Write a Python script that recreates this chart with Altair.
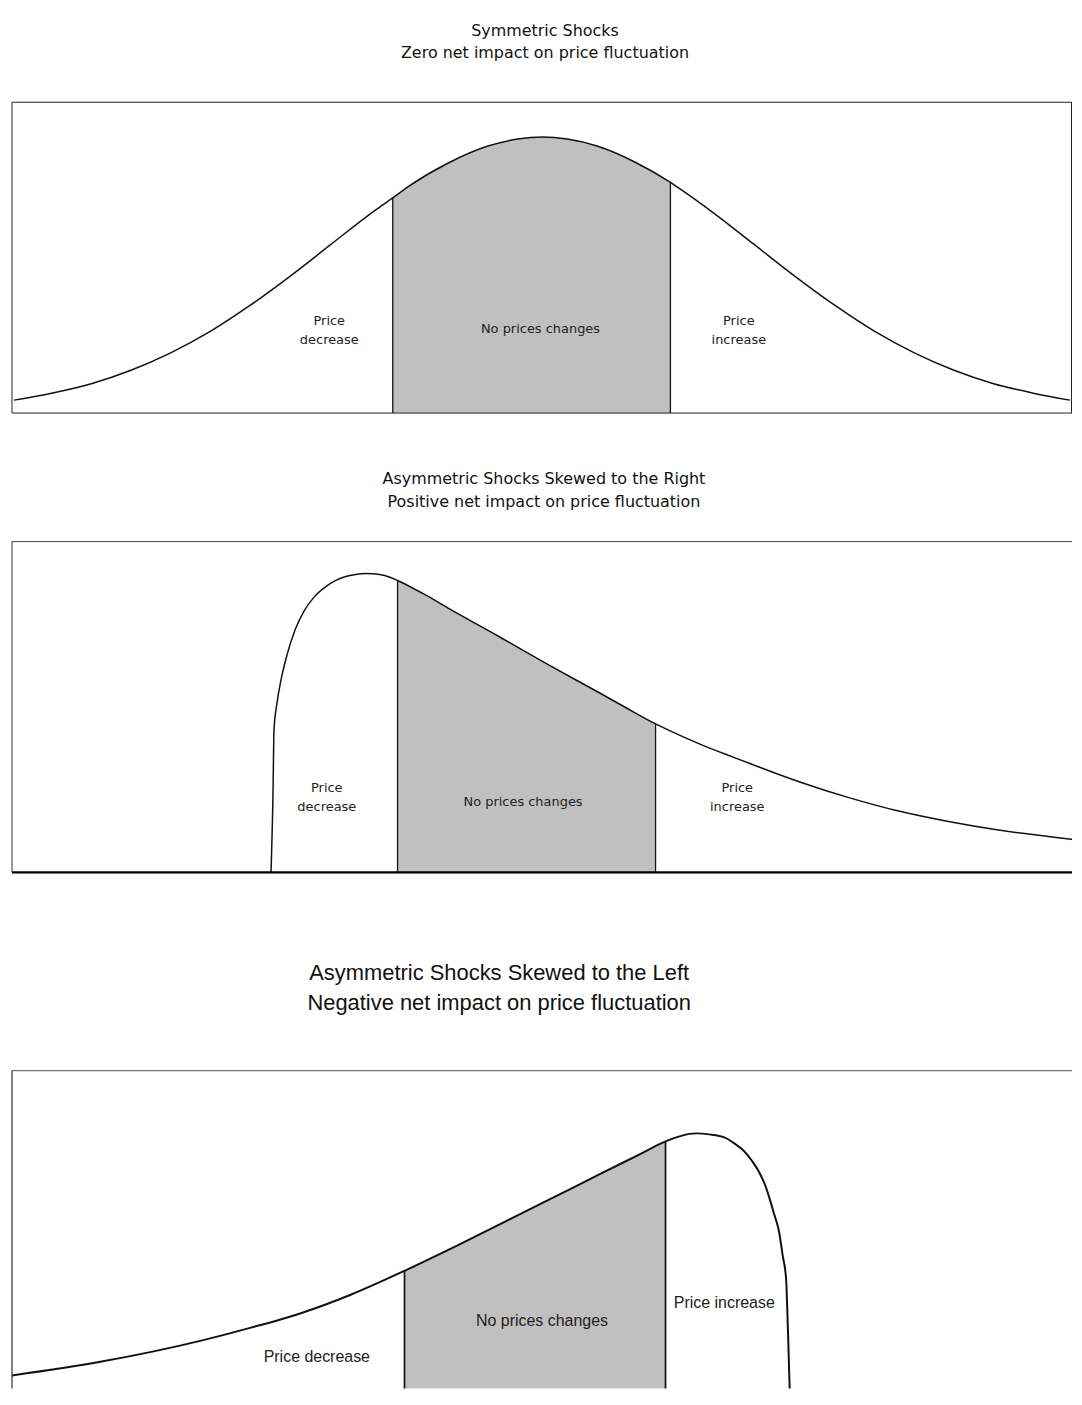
import altair as alt
import pandas as pd

# ---------------- Panel 1: symmetric shocks ----------------
p1_title = ["Symmetric Shocks", "Zero net impact on price fluctuation"]
p1_x = [1, 39, 79, 119, 159, 199, 239, 279, 319, 359, 383, 399, 439, 479, 509, 534,
        559, 589, 629, 663, 669, 709, 749, 789, 829, 869, 909, 949, 989, 1029, 1066]
p1_y = [13, 20, 29.5, 43, 60.5, 82, 108, 137, 168, 199, 216, 227.5, 251, 268, 275, 277,
        275, 268, 251, 231.5, 227.5, 199, 168, 137, 108, 82, 60.5, 43, 29.5, 20, 13]
p1_div_x = [383, 663]
p1_div_top = [216, 231.5]
p1_label_text = ["Price\ndecrease", "No prices changes", "Price\nincrease"]
p1_label_x = [319, 532, 732]
p1_label_y = [92, 84, 92]

# ---------------- Panel 2: skewed to the right ----------------
p2_title = ["Asymmetric Shocks Skewed to the Right", "Positive net impact on price fluctuation"]
p2_x = [265, 267, 268, 271, 275, 281, 289, 298, 308, 319, 330, 340, 350, 360, 374, 385,
        392, 420, 445, 495, 545, 595, 620, 651, 670, 695, 720, 745, 770, 795, 845, 895,
        945, 995, 1045, 1077]
p2_y = [0, 80, 143, 170, 193, 218, 243, 262, 276, 286, 293, 297, 299, 300, 299, 296,
        293, 278.5, 264, 236, 207.5, 180, 166, 149, 140, 129, 119, 109.5, 100, 91, 75, 61.5,
        51, 42.5, 36, 32]
p2_div_x = [392, 651]
p2_div_top = [293, 149]
p2_label_text = ["Price\ndecrease", "No prices changes", "Price\nincrease"]
p2_label_x = [321, 518, 733]
p2_label_y = [85, 71, 85]

# ---------------- Panel 3: skewed to the left ----------------
p3_title = ["Asymmetric Shocks Skewed to the Left", "Negative net impact on price fluctuation"]
p3_x = [0, 90, 190, 240, 290, 340, 394, 440, 490, 540, 590, 630, 656, 670, 680, 687,
        700, 715, 725, 735, 743, 750, 756, 760, 765, 770, 773.5, 777, 779, 781, 781.3]
p3_y = [34, 48, 69, 82, 96.5, 115, 139, 161, 186, 211, 236, 256, 269, 274, 276.5, 277,
        276, 273, 267, 259, 249, 238, 225, 213, 196, 178, 155, 131, 75, 8, 0]
p3_div_x = [394, 656]
p3_div_top = [139, 269]
p3_label_text = ["Price decrease", "No prices changes", "Price increase"]
p3_label_x = [306, 532, 715]
p3_label_y = [53, 89, 107]

GRAY = "#c0c0c0"
INK = "#111111"
PLOT_W = 1064


def panel(cx, cy, div_x, div_top, lt, lx, ly, xdom, ydom, height, title,
          line_w, lab_font, lab_size, lab_lh, frame):
    curve = pd.DataFrame({"x": cx, "y": cy})
    divs = pd.DataFrame({"x": div_x, "y": [0] * len(div_x), "top": div_top})
    labels = pd.DataFrame({"x": lx, "y": ly, "t": lt})

    xs = alt.Scale(domain=xdom, nice=False, zero=False)
    ys = alt.Scale(domain=ydom, nice=False, zero=False)
    X = alt.X("x:Q", scale=xs, axis=None)
    Y = alt.Y("y:Q", scale=ys, axis=None)
    lo, hi = min(div_x), max(div_x)

    shade = alt.Chart(curve).transform_filter(
        (alt.datum.x >= lo) & (alt.datum.x <= hi)
    ).mark_area(color=GRAY, interpolate="monotone", clip=True).encode(x=X, y=Y)

    rules = alt.Chart(divs).mark_rule(color=INK, strokeWidth=line_w * 0.85, clip=True).encode(
        x=X, y=Y, y2=alt.Y2("top:Q")
    )
    line = alt.Chart(curve).mark_line(
        color=INK, strokeWidth=line_w, interpolate="monotone", clip=True
    ).encode(x=X, y=Y)

    text = alt.Chart(labels).mark_text(
        font=lab_font, fontSize=lab_size, lineHeight=lab_lh, lineBreak="\n",
        color="#222222", align="center", baseline="middle"
    ).encode(x=X, y=Y, text="t:N")

    layers = [shade, rules, line, text]
    for kind, val, color, sw in frame:
        df = pd.DataFrame({kind: [val]})
        enc = {"y": Y} if kind == "y" else {"x": X}
        layers.append(alt.Chart(df).mark_rule(color=color, strokeWidth=sw).encode(**enc))

    return alt.layer(*layers).properties(width=PLOT_W, height=height, title=title)


t1 = alt.TitleParams(text=p1_title, font="DejaVu Sans", fontSize=16, fontWeight="normal",
                     lineHeight=22, anchor="middle", offset=41, color="#111111", dx=3)
t2 = alt.TitleParams(text=p2_title, font="DejaVu Sans", fontSize=16, fontWeight="normal",
                     lineHeight=23, anchor="middle", offset=31, color="#111111", dx=2)
t3 = alt.TitleParams(text=p3_title, font="Liberation Sans", fontSize=22, fontWeight="normal",
                     lineHeight=30, anchor="middle", offset=55, color="#111111", dx=-43)

c1 = panel(p1_x, p1_y, p1_div_x, p1_div_top, p1_label_text, p1_label_x, p1_label_y,
           [-1, 1068], [0, 312], 312, t1, 1.5, "DejaVu Sans", 13, 19,
           [("y", 0, "#222222", 1), ("y", 312, "#222222", 1),
            ("x", -1, "#222222", 1), ("x", 1067.5, "#222222", 1)])

c2 = panel(p2_x, p2_y, p2_div_x, p2_div_top, p2_label_text, p2_label_x, p2_label_y,
           [5, 1069], [0, 332], 332, t2, 1.5, "DejaVu Sans", 13, 19,
           [("y", 332, "#444444", 1), ("x", 5, "#333333", 1), ("y", 0, "#000000", 2.2)])

c3 = panel(p3_x, p3_y, p3_div_x, p3_div_top, p3_label_text, p3_label_x, p3_label_y,
           [0, 1064], [21, 340], 319, t3, 2, "Liberation Sans", 16, 19,
           [("y", 340, "#777777", 1.2), ("x", 0, "#333333", 1.2)])

chart = alt.vconcat(
    alt.vconcat(c1, c2, spacing=57),
    c3,
    spacing=88,
).properties(
    padding={"left": 2, "top": 12, "right": 0, "bottom": 0},
    background="white",
).configure_view(stroke=None, strokeWidth=0)

chart.save("out.html", embed_options={"renderer": "svg", "actions": False})
